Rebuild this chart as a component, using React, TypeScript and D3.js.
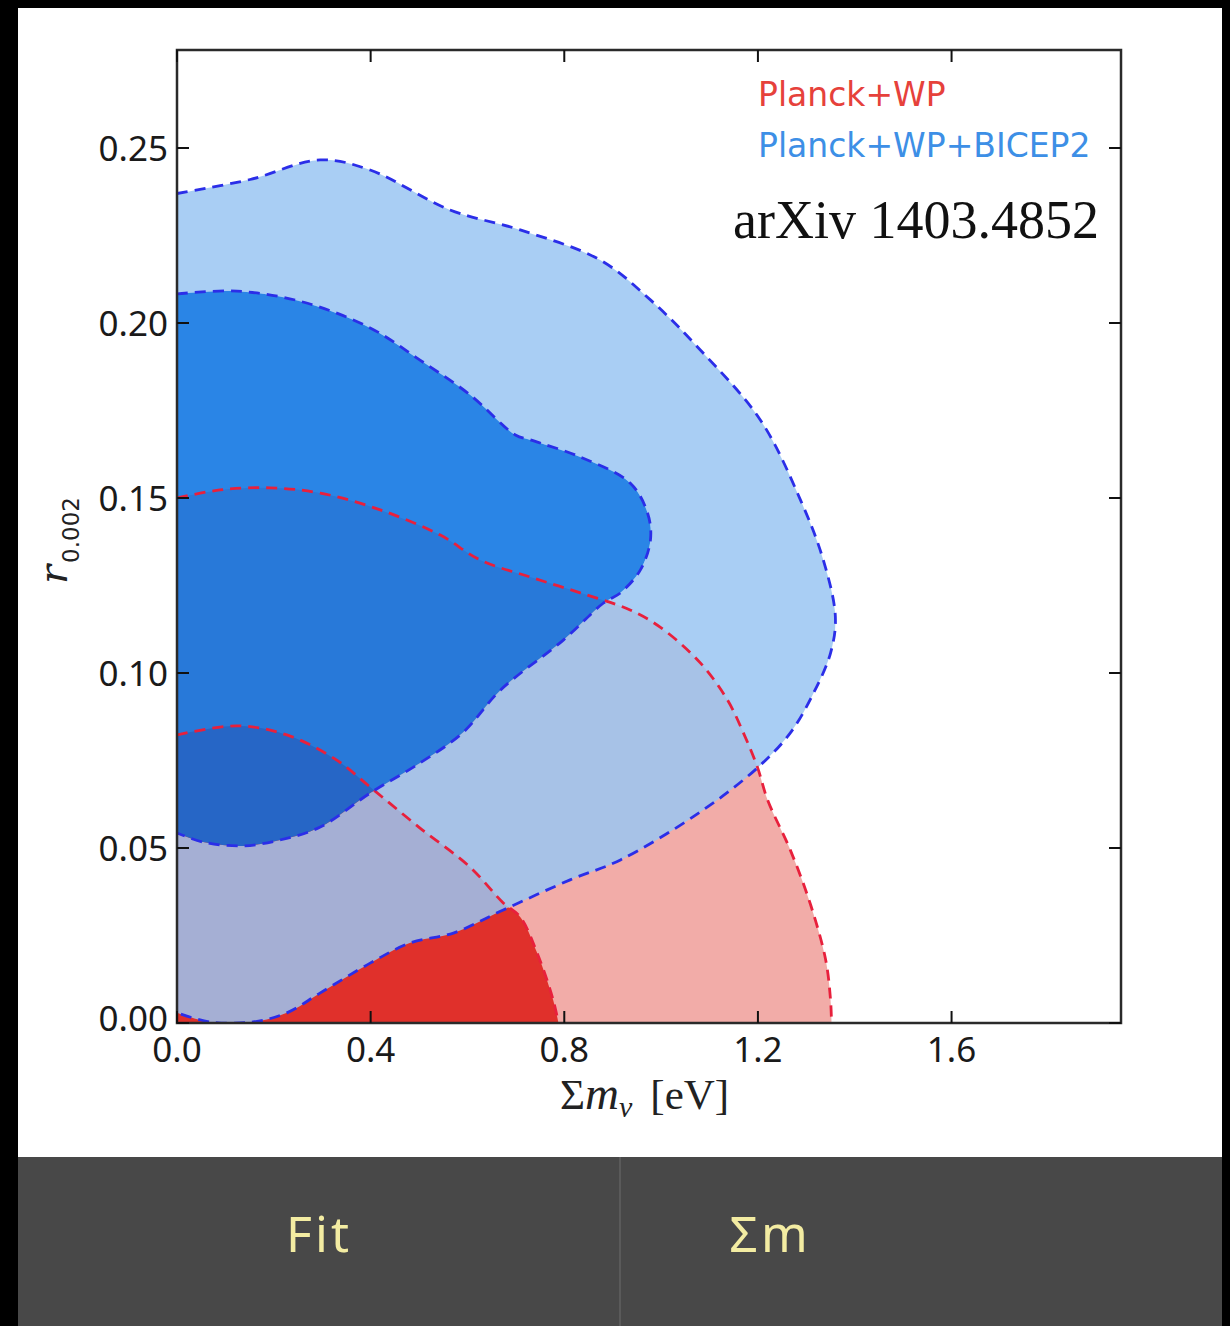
import React from 'react';
import * as d3 from 'd3';

// axis ticks
const xTicks = [0, 0.4, 0.8, 1.2, 1.6];
const yTicks = [0, 0.05, 0.1, 0.15, 0.2, 0.25];

// contours, points are [sum m_nu (eV), r_0.002]
const planck95 = [
  [0, 0.15], [0.089, 0.1523], [0.192, 0.1529], [0.296, 0.1514], [0.42, 0.1466],
  [0.544, 0.1394], [0.626, 0.1323], [0.73, 0.1274], [0.833, 0.1229], [0.936, 0.118],
  [0.998, 0.1131], [1.081, 0.1029], [1.137, 0.0923], [1.17, 0.0829], [1.199, 0.0731],
  [1.22, 0.0637], [1.267, 0.0494], [1.309, 0.0337], [1.34, 0.018], [1.35, 0.0066], [1.352, 0],
];
const planck68 = [
  [0, 0.0823], [0.124, 0.0849], [0.227, 0.0823], [0.33, 0.0751], [0.399, 0.0674],
  [0.502, 0.0557], [0.605, 0.0446], [0.674, 0.0343], [0.709, 0.0303], [0.744, 0.02],
  [0.777, 0.0066], [0.788, 0],
];
const bicep95 = [
  [0, 0.237], [0.151, 0.241], [0.296, 0.2466], [0.399, 0.2437], [0.564, 0.2323],
  [0.709, 0.2266], [0.874, 0.218], [0.978, 0.2066], [1.081, 0.1923], [1.205, 0.1723],
  [1.288, 0.1494], [1.335, 0.1323], [1.36, 0.116], [1.35, 0.1057], [1.315, 0.0943],
  [1.267, 0.0829], [1.199, 0.0729], [1.081, 0.0603], [0.916, 0.0466], [0.812, 0.0409],
  [0.674, 0.0323], [0.571, 0.0257], [0.482, 0.0229], [0.399, 0.0171], [0.296, 0.0086],
  [0.227, 0.0029], [0.157, 0.0003], [0.068, 0.0003], [0, 0.0029],
];
const bicep68 = [
  [0, 0.2083], [0.124, 0.2091], [0.26, 0.206], [0.399, 0.1986], [0.502, 0.1894],
  [0.606, 0.1794], [0.699, 0.168], [0.73, 0.1666], [0.833, 0.1617], [0.936, 0.1543],
  [0.972, 0.1457], [0.978, 0.138], [0.957, 0.1294], [0.916, 0.1229], [0.881, 0.12],
  [0.798, 0.1094], [0.668, 0.0951], [0.59, 0.0829], [0.502, 0.0743], [0.399, 0.0657],
  [0.296, 0.056], [0.213, 0.0523], [0.136, 0.0506], [0.054, 0.0517], [0, 0.0543],
];

const legendItems = [
  { label: 'Planck+WP', color: '#e6413b' },
  { label: 'Planck+WP+BICEP2', color: '#3d8fe6' },
];
const footerCells = ['Fit', 'Σm'];

export default function App() {
  const W = 1230;
  const H = 1326;
  const plot = { left: 177, top: 50, right: 1121, bottom: 1023 };

  const x = d3.scaleLinear().domain([0, 1.95]).range([plot.left, plot.right]);
  const y = d3.scaleLinear().domain([0, 0.278]).range([plot.bottom, plot.top]);

  const line = d3.line<number[]>()
    .x(d => x(d[0]))
    .y(d => y(d[1]))
    .curve(d3.curveCatmullRom.alpha(0.5));

  // red regions close along the bottom axis, blue along the left axis
  const toOrigin = `L${x(0)},${y(0)}Z`;
  const red95Fill = line(planck95) + toOrigin;
  const red68Fill = line(planck68) + toOrigin;
  const blueBand = line(bicep95) + 'Z' + line(bicep68) + 'Z';
  const blue68Fill = line(bicep68) + 'Z';

  const tickFont = { fontFamily: '"Noto Sans", sans-serif', fontSize: 35, fill: '#1a1a1a' };
  const tickLen = 12;

  return (
    <div style={{ position: 'absolute', left: 0, top: 0 }}>
      <svg width={W} height={H} style={{ display: 'block' }}>
        <rect x={0} y={0} width={W} height={H} fill="#000" />
        <rect x={18} y={8} width={1204} height={1149} fill="#fff" />

        <defs>
          <clipPath id="plotClip">
            <rect x={plot.left} y={plot.top} width={plot.right - plot.left} height={plot.bottom - plot.top} />
          </clipPath>
        </defs>

        <g clipPath="url(#plotClip)">
          <path d={red95Fill} fill="#f2aca8" />
          <path d={red68Fill} fill="#e0302b" />
          <path d={blueBand} fill="rgb(154,197,242)" fillOpacity={0.85} fillRule="evenodd" />
          <path d={blue68Fill} fill="rgb(5,112,226)" fillOpacity={0.85} />

          {[planck95, planck68].map((c, i) => (
            <path key={'r' + i} d={line(c) || ''} fill="none" stroke="#e8203c"
              strokeWidth={2.8} strokeDasharray="11 7" />
          ))}
          {[bicep95, bicep68].map((c, i) => (
            <path key={'b' + i} d={line(c) || ''} fill="none" stroke="#2b2ee8"
              strokeWidth={2.8} strokeDasharray="11 7" />
          ))}
        </g>

        {/* frame */}
        <rect x={plot.left} y={plot.top} width={plot.right - plot.left} height={plot.bottom - plot.top}
          fill="none" stroke="#2a2a2a" strokeWidth={2.5} />

        {/* inward ticks on all sides */}
        {xTicks.map(t => (
          <g key={'xt' + t}>
            <line x1={x(t)} x2={x(t)} y1={plot.bottom} y2={plot.bottom - tickLen} stroke="#111" strokeWidth={2} />
            <line x1={x(t)} x2={x(t)} y1={plot.top} y2={plot.top + tickLen} stroke="#111" strokeWidth={2} />
            <text x={x(t)} y={plot.bottom + 39} textAnchor="middle" {...tickFont}>{t.toFixed(1)}</text>
          </g>
        ))}
        {yTicks.map(t => (
          <g key={'yt' + t}>
            <line x1={plot.left} x2={plot.left + tickLen} y1={y(t)} y2={y(t)} stroke="#111" strokeWidth={2} />
            <line x1={plot.right} x2={plot.right - tickLen} y1={y(t)} y2={y(t)} stroke="#111" strokeWidth={2} />
            <text x={168} y={y(t) + (t === 0 ? 8 : 13)} textAnchor="end" {...tickFont}>{t.toFixed(2)}</text>
          </g>
        ))}

        {/* axis labels */}
        <text x={560} y={1109} fill="#222" style={{ fontFamily: '"Liberation Serif", serif' }} fontSize={43}>
          <tspan>Σ</tspan>
          <tspan fontStyle="italic" fontSize={47}>m</tspan>
          <tspan fontStyle="italic" fontSize={30} dy={8}>ν</tspan>
          <tspan dy={-8} dx={18}>[eV]</tspan>
        </text>
        <text transform="translate(67,584) rotate(-90)" fill="#222">
          <tspan style={{ fontFamily: '"DejaVu Serif", serif' }} fontStyle="italic" fontSize={40}>r</tspan>
          <tspan style={{ fontFamily: '"DejaVu Sans", sans-serif' }} fontSize={23} dy={12} dx={2}>0.002</tspan>
        </text>

        {/* legend */}
        {legendItems.map((d, i) => (
          <text key={d.label} x={758} y={106 + i * 51} fill={d.color}
            style={{ fontFamily: '"DejaVu Sans", sans-serif' }} fontSize={33}>{d.label}</text>
        ))}
        <text x={733} y={238} fill="#111" style={{ fontFamily: '"Liberation Serif", serif' }} fontSize={54}>
          arXiv 1403.4852
        </text>

        {/* footer bar */}
        <rect x={18} y={1157} width={1204} height={H - 1157} fill="#484848" />
        <line x1={620} x2={620} y1={1157} y2={H} stroke="#606060" strokeWidth={1.5} />
        {footerCells.map((c, i) => (
          <text key={c} x={i === 0 ? 319 : 770} y={1252} textAnchor="middle" fill="#f3eca2"
            style={{ fontFamily: '"Noto Sans", sans-serif' }} fontSize={50} letterSpacing={3}>{c}</text>
        ))}
      </svg>
    </div>
  );
}
